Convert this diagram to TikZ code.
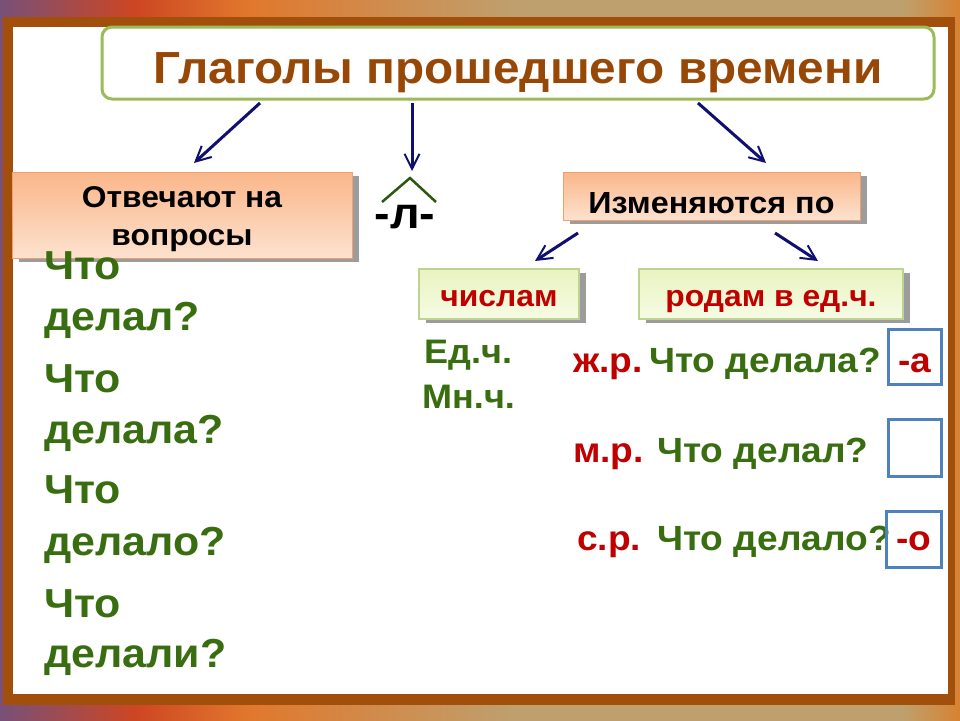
\documentclass[tikz,border=0pt]{standalone}
\usepackage{fontspec}
\setmainfont{Liberation Sans}[FakeStretch=1.06]
\usetikzlibrary{arrows.meta, shadows}

\definecolor{framebrown}{RGB}{161,79,11}
\definecolor{barkA}{RGB}{120,80,120}
\definecolor{barkB}{RGB}{205,70,35}
\definecolor{barkC}{RGB}{225,120,45}
\definecolor{barkD}{RGB}{190,160,110}
\definecolor{barkE}{RGB}{215,130,50}
\definecolor{titlebrown}{RGB}{152,72,6}
\definecolor{titlegreen}{RGB}{155,187,89}
\definecolor{arrownavy}{RGB}{16,16,112}
\definecolor{peachtop}{RGB}{250,182,138}
\definecolor{peachbot}{RGB}{253,226,206}
\definecolor{peachline}{RGB}{240,160,110}
\definecolor{limetop}{RGB}{232,244,192}
\definecolor{limebot}{RGB}{246,251,228}
\definecolor{limeline}{RGB}{190,211,145}
\definecolor{shadowgray}{RGB}{156,156,156}
\definecolor{wordred}{RGB}{192,0,0}
\definecolor{wordgreen}{RGB}{56,110,15}
\definecolor{endblue}{RGB}{79,129,189}

\pgfdeclarehorizontalshading{bark}{100bp}{color(0bp)=(barkA); color(25bp)=(barkA);
  color(32bp)=(barkB); color(38bp)=(barkC); color(52bp)=(barkD); color(72bp)=(barkD);
  color(75bp)=(barkE); color(100bp)=(barkE)}

\newcommand\qsize{\fontsize{40.5}{40.5}\selectfont\bfseries}
\newcommand\rowsize{\fontsize{35}{35}\selectfont\bfseries}
\newcommand\numsize{\fontsize{34}{34}\selectfont\bfseries}

\begin{document}
\begin{tikzpicture}[x=1pt, y=-1pt,
    titlebox/.style={draw=titlegreen, line width=3pt, fill=white, rounded corners=10pt,
      minimum width=832pt, minimum height=72pt, inner sep=0pt, text=titlebrown,
      font=\fontsize{45}{45}\selectfont\bfseries},
    peachbox/.style={draw=peachline, line width=1pt, top color=peachtop, bottom color=peachbot,
      general shadow={fill=shadowgray, shadow xshift=7pt, shadow yshift=-4pt}, inner sep=0pt},
    limebox/.style={draw=limeline, line width=1.5pt, top color=limetop, bottom color=limebot,
      general shadow={fill=shadowgray, shadow xshift=7pt, shadow yshift=-4pt}, inner sep=0pt,
      minimum height=50pt, text=wordred, text height=24pt, text depth=0pt,
      font=\fontsize{30}{30}\selectfont\bfseries},
    endbox/.style={draw=endblue, line width=3pt, inner sep=0pt, text=wordred, font=\rowsize},
    gword/.style={anchor=base west, text=wordgreen, inner sep=0pt},
    rword/.style={anchor=base west, text=wordred, inner sep=0pt, font=\rowsize},
    link/.style={draw=arrownavy, line width=3pt,
      -{Straight Barb[length=15pt, width=15pt, line width=2pt]}}]
    \useasboundingbox (0,0) rectangle (960,720);

    % frame
    \fill[shading=bark] (0,0) rectangle (960,720);
    \fill[framebrown] (3,17) rectangle (955,705);
    \fill[white] (13,27) rectangle (948,694);

    \node[titlebox, text height=40pt, text depth=0pt] (title) at (518,63) {Глаголы прошедшего времени};

    \node[peachbox, minimum width=340pt, minimum height=86pt, align=center,
      text height=65pt, text depth=5pt, font=\fontsize{30}{38}\selectfont\bfseries]
      (ask) at (182,215) {Отвечают на\\вопросы};
    \node[anchor=base, inner sep=0pt, font=\fontsize{44}{44}\selectfont\bfseries] (suffix) at (405,228) {-л-};
    \draw[wordgreen!80!black, line width=2.5pt] (382,202) -- (410,178) -- (436,202);
    \node[peachbox, minimum width=297pt, minimum height=48pt, text height=34pt, text depth=0pt,
      font=\fontsize{30.5}{30.5}\selectfont\bfseries] (change) at (711.5,196) {Изменяются по};

    \node[limebox, minimum width=160pt] (num) at (499,294) {числам};
    \node[limebox, minimum width=264pt] (gender) at (771,294) {родам в ед.ч.};

    % arrows
    \coordinate (t1) at (260,103);  \coordinate (h1) at (194,163);
    \coordinate (t2) at (412,103);  \coordinate (h2) at (412,171);
    \coordinate (t3) at (698,103);  \coordinate (h3) at (766,163);
    \coordinate (t4) at (578,233);  \coordinate (h4) at (535,261);
    \coordinate (t5) at (775,233);  \coordinate (h5) at (818,261);
    \foreach \i in {1,...,5}
        \draw[link] (t\i) -- (h\i);

    % questions on the left
    \foreach \txt/\yy [count=\k] in {Что/279, делал?/330, Что/392, делала?/443,
        Что/503, делало?/555, Что/617, делали?/667}
        \node[gword, font=\qsize] (q\k) at (44,\yy) {\txt};

    % number
    \node[gword, font=\numsize] (sing) at (424,363) {Ед.ч.};
    \node[gword, font=\numsize] (plur) at (422,408) {Мн.ч.};

    % gender
    \node[rword] (fem) at (573,372) {ж.р.};
    \node[gword, font=\rowsize] (femq) at (649,372) {Что делала?};
    \node[endbox, minimum width=53pt, minimum height=55pt, text height=31pt, text depth=0pt] (enda) at (914.5,356.5) {-а};
    \node[rword] (masc) at (573,462) {м.р.};
    \node[gword, font=\rowsize] (mascq) at (657,462) {Что делал?};
    \node[endbox, minimum width=53pt, minimum height=57pt] (endm) at (914.5,447.5) {};
    \node[rword] (neut) at (577,550) {с.р.};
    \node[gword, font=\rowsize] (neutq) at (657,550) {Что делало?};
    \node[endbox, minimum width=55pt, minimum height=56pt, text height=22pt, text depth=0pt] (endo) at (913.5,539) {-о};
\end{tikzpicture}
\end{document}
